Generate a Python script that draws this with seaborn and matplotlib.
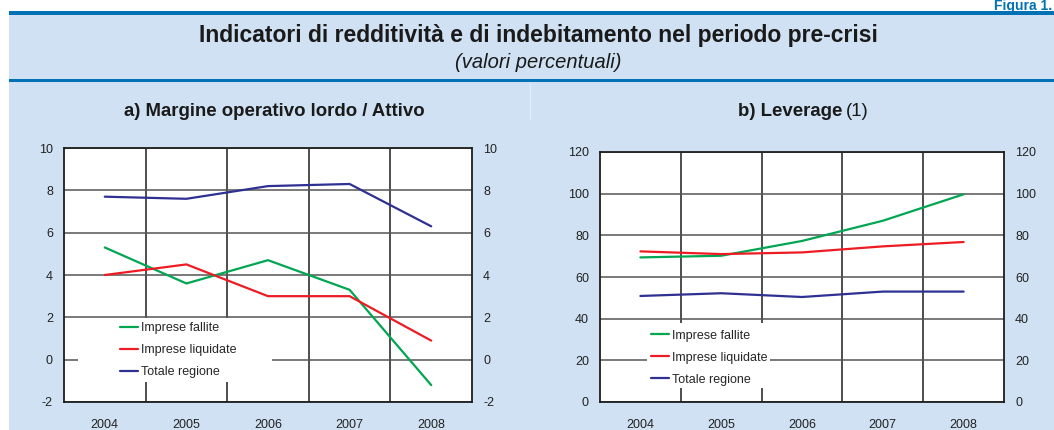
import pandas as pd
import matplotlib.pyplot as plt
from matplotlib.patches import Rectangle
from matplotlib.lines import Line2D
from matplotlib.ticker import MultipleLocator
import seaborn as sns

# -----------------------------
# Data
# -----------------------------
years = [2004, 2005, 2006, 2007, 2008]
series_names = ['Imprese fallite', 'Imprese liquidate', 'Totale regione']

# a) Margine operativo lordo / Attivo
mol_fallite = [5.3, 3.6, 4.7, 3.3, -1.2]
mol_liquidate = [4.0, 4.5, 3.0, 3.0, 0.9]
mol_totale = [7.7, 7.6, 8.2, 8.3, 6.3]

# b) Leverage
lev_fallite = [69.4, 70.2, 77.3, 87.0, 99.7]
lev_liquidate = [72.3, 71.0, 71.8, 74.7, 76.8]
lev_totale = [50.9, 52.2, 50.4, 53.0, 53.0]

palette = {'Imprese fallite': '#00a651',
           'Imprese liquidate': '#ed1c24',
           'Totale regione': '#2e3192'}
bg_blue = '#cfe1f2'
line_blue = '#0071b4'


def to_long(fallite, liquidate, totale):
    frames = []
    for name, vals in zip(series_names, [fallite, liquidate, totale]):
        frames.append(pd.DataFrame({'year': years, 'value': vals, 'serie': name}))
    return pd.concat(frames, ignore_index=True)


mol_df = to_long(mol_fallite, mol_liquidate, mol_totale)
lev_df = to_long(lev_fallite, lev_liquidate, lev_totale)

sns.set_style('white')
plt.rcParams['font.family'] = ['Liberation Sans', 'DejaVu Sans']
plt.rcParams['axes.unicode_minus'] = False

W, H = 1054, 430
fig = plt.figure(figsize=(W / 100, H / 100), dpi=100, facecolor='white')


def px_rect(x0, y0, x1, y1, **kw):
    # rectangle given in pixel coords from top-left
    fig.patches.append(Rectangle((x0 / W, 1 - y1 / H), (x1 - x0) / W, (y1 - y0) / H,
                                 transform=fig.transFigure, figure=fig, **kw))


# background boxes and blue rules
px_rect(9, 14, W, 80, facecolor=bg_blue, edgecolor='none', zorder=-2)
px_rect(9, 82, W, H, facecolor=bg_blue, edgecolor='none', zorder=-2)
px_rect(9, 11.5, W, 14.5, facecolor=line_blue, edgecolor='none', zorder=-1)
px_rect(9, 79, W, 82, facecolor=line_blue, edgecolor='none', zorder=-1)
px_rect(529.5, 84, 530.5, 120, facecolor='#e3eef8', edgecolor='none', zorder=-1)

fig.text(1052 / W, 1 - 10 / H, 'Figura 1.', color=line_blue, fontsize=10,
         fontweight='bold', ha='right', va='baseline')
fig.text(538 / W, 1 - 35.5 / H, 'Indicatori di redditività e di indebitamento nel periodo pre-crisi',
         fontsize=16.5, fontweight='bold', color='#1a1a1a', ha='center', va='center')
fig.text(538 / W, 1 - 63 / H, '(valori percentuali)', fontsize=14.5, style='italic',
         color='#1a1a1a', ha='center', va='center')

fig.text(274 / W, 1 - 112 / H, 'a) Margine operativo lordo / Attivo', fontsize=13.4,
         fontweight='bold', color='#1a1a1a', ha='center', va='center')
fig.text(842 / W, 1 - 112 / H, 'b) Leverage', fontsize=13.4, fontweight='bold',
         color='#1a1a1a', ha='right', va='center')
fig.text(846 / W, 1 - 112 / H, '(1)', fontsize=13.4, color='#1a1a1a', ha='left', va='center')


def draw_panel(rect, df, ylim, ystep, box, leg_anchor):
    ax = fig.add_axes(rect, zorder=2)
    ax.set_facecolor('white')
    sns.lineplot(data=df, x='year', y='value', hue='serie', hue_order=series_names,
                 palette=palette, linewidth=1.6, ax=ax, legend=False, zorder=5)
    ax.set_xlim(years[0] - 0.5, years[-1] + 0.5)
    ax.set_ylim(*ylim)
    ax.set_xticks(years)
    ax.set_xticks([y + 0.5 for y in years[:-1]], minor=True)
    ax.yaxis.set_major_locator(MultipleLocator(ystep))
    ax.grid(False)
    ax.grid(True, axis='x', which='minor', color='#1e1e1e', linewidth=1.1)
    ax.grid(True, axis='y', which='major', color='#555555', linewidth=1.1)
    ax.set_axisbelow(True)
    ax.set_xlabel('')
    ax.set_ylabel('')
    ax.tick_params(axis='both', which='both', length=0, labelsize=9, colors='#222222')
    ax.tick_params(axis='x', pad=12)
    ax.tick_params(axis='y', pad=8, labelright=True)
    for s in ax.spines.values():
        s.set_visible(True)
        s.set_color('#1e1e1e')
        s.set_linewidth(1.3)
        s.set_zorder(6)

    # white box behind the legend
    ax.add_patch(Rectangle((box[0], box[1]), box[2] - box[0], box[3] - box[1],
                           transform=ax.transAxes, facecolor='white', edgecolor='none',
                           zorder=3))
    handles = [Line2D([], [], color=palette[n], linewidth=1.6) for n in series_names]
    ax.legend(handles, series_names, loc='upper left', bbox_to_anchor=leg_anchor,
              frameon=False, fontsize=9, handlelength=1.45, handletextpad=0.2,
              labelspacing=0.8, borderpad=0, borderaxespad=0)
    return ax


ax1 = draw_panel([64 / W, 28 / H, 408 / W, 254 / H], mol_df, (-2, 10), 2,
                 (0.034, 0.079, 0.51, 0.331), (0.137, 0.313))
ax2 = draw_panel([600 / W, 28 / H, 404 / W, 250 / H], lev_df, (0, 120), 20,
                 (0.116, 0.056, 0.42, 0.316), (0.126, 0.29))

fig.savefig('out.png', dpi=100, facecolor='white')
